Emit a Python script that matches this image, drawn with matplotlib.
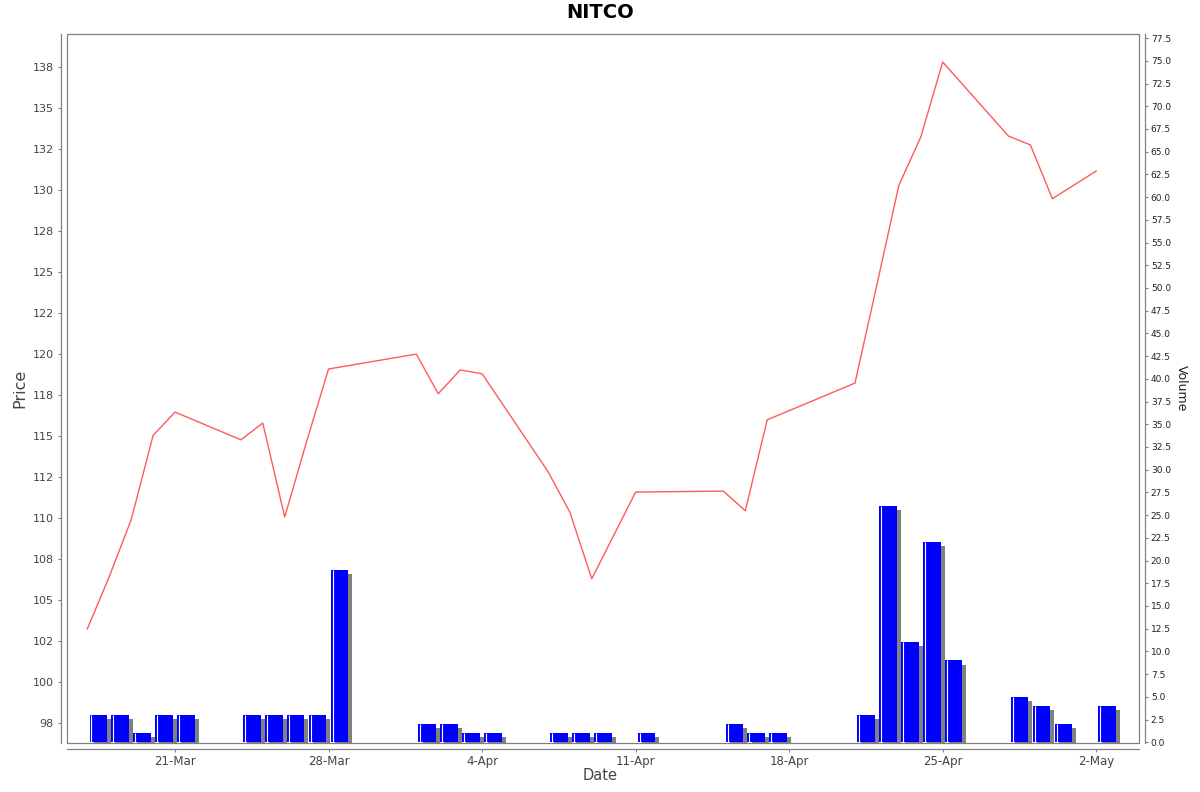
import numpy as np
import pandas as pd
import matplotlib
matplotlib.use("Agg")
import matplotlib.pyplot as plt
import matplotlib.dates as mdates
import matplotlib.patheffects as pe
from matplotlib.patches import Rectangle

# --- dati ---
dates = ['2025-03-17', '2025-03-18', '2025-03-19', '2025-03-20', '2025-03-21',
         '2025-03-24', '2025-03-25', '2025-03-26', '2025-03-27', '2025-03-28',
         '2025-04-01', '2025-04-02', '2025-04-03', '2025-04-04',
         '2025-04-07', '2025-04-08', '2025-04-09', '2025-04-11',
         '2025-04-15', '2025-04-16', '2025-04-17',
         '2025-04-21', '2025-04-22', '2025-04-23', '2025-04-24', '2025-04-25',
         '2025-04-28', '2025-04-29', '2025-04-30', '2025-05-02']
prices = [103.24, 106.43, 109.90, 115.05, 116.47,
          114.78, 115.80, 110.07, 114.68, 119.10,
          120.01, 117.59, 119.04, 118.81,
          112.85, 110.37, 106.30, 111.59,
          111.65, 110.45, 116.00,
          118.24, 124.24, 130.30, 133.25, 137.83,
          133.31, 132.77, 129.49, 131.18]
volumes = [3, 3, 1, 3, 3,
           3, 3, 3, 3, 19,
           2, 2, 1, 1,
           1, 1, 1, 1,
           2, 1, 1,
           3, 26, 11, 22, 9,
           5, 4, 2, 4]
price_ticks = [97.5, 100, 102.5, 105, 107.5, 110, 112.5, 115, 117.5, 120,
               122.5, 125, 127.5, 130, 132.5, 135, 137.5]
volume_ticks = np.arange(0, 78, 2.5)

df = pd.DataFrame({'date': pd.to_datetime(dates), 'price': prices, 'volume': volumes})
x = mdates.date2num(df['date'])

axis_col = '#808080'
text_col = '#444444'

fig = plt.figure(figsize=(12, 7.92), dpi=100)
ax = fig.add_axes([67/1200, 1-743/792, (1139-67)/1200, (743-34)/792])
ax2 = ax.twinx()

# --- volume (asse destro) ---
shadow = [pe.SimplePatchShadow(offset=(2.9, -2.9), shadow_rgbFace='#808080', alpha=1.0),
          pe.Normal()]
bars = ax2.bar(x + 0.1, df['volume'], width=0.8, align='edge', color='#0000ff',
               edgecolor='none', zorder=2)
for b in bars:
    b.set_path_effects(shadow)
ax2.vlines(x + 0.19, 0, df['volume'], color='white', lw=0.8, zorder=3)

# --- prezzo (asse sinistro) ---
ax.plot(x, df['price'], color='#ff5a5a', lw=1.0, zorder=4)
ax.set_zorder(ax2.get_zorder() + 1)
ax.patch.set_visible(False)

ax.set_xlim(x[0] - 0.926, x[-1] + 1.95)
ax.set_ylim(96.28, 139.54)
ax2.set_ylim(-0.08, 77.95)

ax.set_yticks(price_ticks)
ax.yaxis.set_major_formatter(plt.FuncFormatter(lambda v, p: f"{round(v)}"))
ax2.set_yticks(volume_ticks)
ax2.yaxis.set_major_formatter(plt.FuncFormatter(lambda v, p: f"{v:.1f}"))

ax.xaxis.set_major_locator(mdates.WeekdayLocator(byweekday=mdates.FR))
ax.xaxis.set_major_formatter(plt.FuncFormatter(
    lambda v, p: f"{mdates.num2date(v).day}-{mdates.num2date(v).strftime('%b')}"))

# assi staccati dal riquadro
for s in ['top', 'right']:
    ax.spines[s].set_visible(False)
for s in ['top', 'left', 'bottom']:
    ax2.spines[s].set_visible(False)
for a, s in [(ax, 'left'), (ax, 'bottom'), (ax2, 'right')]:
    a.spines[s].set_position(('outward', 4))
    a.spines[s].set_color(axis_col)
    a.spines[s].set_linewidth(0.9)

ax.add_patch(Rectangle((0, 0), 1, 1, transform=ax.transAxes, fill=False,
                       edgecolor=axis_col, lw=0.9, clip_on=False, zorder=5))

ax.tick_params(axis='y', length=2.5, width=0.8, color=axis_col, labelsize=8,
               labelcolor=text_col, pad=3)
ax.tick_params(axis='x', length=2.5, width=0.8, color=axis_col, labelsize=8.5,
               labelcolor=text_col, pad=2)
ax2.tick_params(axis='y', length=2.5, width=0.8, color=axis_col, labelsize=6.5,
                labelcolor='#222222', pad=2)

fig.text(20/1200, 1-388/792, "Price", rotation=90, ha='center', va='center',
         fontsize=11.5, color=text_col)
fig.text(0.5, 1-776/792, "Date", ha='center', va='center', fontsize=10.5,
         color=text_col)
fig.text(1181/1200, 1-388/792, "Volume", rotation=-90, ha='center', va='center',
         fontsize=9, color='#222222')
fig.text(0.5, 1-13/792, "NITCO", ha='center', va='center', fontsize=14,
         fontweight='bold', color='black')

plt.savefig("out.png", dpi=100)
